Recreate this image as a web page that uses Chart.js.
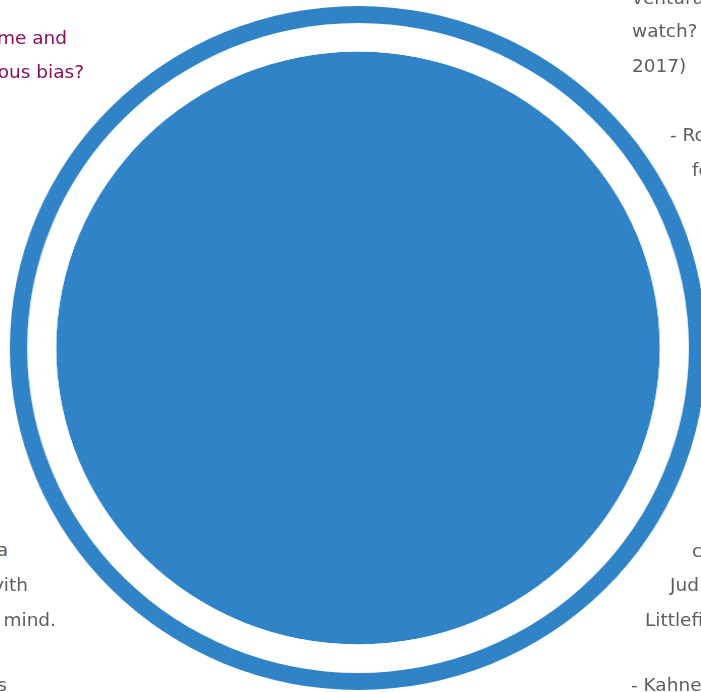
<!DOCTYPE html>
<html>
<head>
<meta charset="utf-8">
<script src="https://cdn.jsdelivr.net/npm/chart.js@4"></script>
<style>
  html, body { margin: 0; padding: 0; background: #fff; }
  body { width: 701px; height: 692px; overflow: hidden; position: relative; font-family: 'DejaVu Sans', sans-serif; }
  #wrap { position: absolute; left: 16px; top: 6px; width: 684px; height: 684px; transform: scaleX(1.018); transform-origin: 50% 50%; }
  .t { position: absolute; font-size: 18.5px; line-height: 20px; white-space: nowrap; color: #5e5e5e; }
  .r { text-align: right; }
  .m { color: #8c0f5a; }
</style>
</head>
<body>
<div id="wrap"><canvas id="circleChart"></canvas></div>

<div class="t r m" style="right:634px; top:28px;">me and</div>
<div class="t r m" style="right:617px; top:62px;">ous bias?</div>

<div class="t" style="left:632px; top:-12px;">ventura</div>
<div class="t" style="left:632px; top:21px;">watch?</div>
<div class="t" style="left:632px; top:56px;">2017)</div>
<div class="t" style="left:670px; top:125px;">- Ro</div>
<div class="t" style="left:692px; top:160px;">fo</div>
<div class="t" style="left:692px; top:541px;">c</div>
<div class="t" style="left:670px; top:575px;">Jud</div>
<div class="t" style="left:645px; top:610px;">Littlefie</div>
<div class="t" style="left:631px; top:675px;">- Kahne</div>

<div class="t r" style="right:693px; top:540px;">a</div>
<div class="t r" style="right:673px; top:575px;">vith</div>
<div class="t r" style="right:645px; top:610px;">mind.</div>
<div class="t r" style="right:694px; top:675px;">s</div>

<script>
const labels = ['Total'];
const ringValues = [100];
const gapValues = [100];
const discValues = [100];

const blue = '#2f83c6';

new Chart(document.getElementById('circleChart'), {
  type: 'pie',
  data: {
    labels: labels,
    datasets: [
      { data: ringValues, backgroundColor: [blue], weight: 17, borderWidth: 0 },
      { data: gapValues, backgroundColor: ['#ffffff'], weight: 28.5, borderWidth: 0 },
      { data: discValues, backgroundColor: [blue], weight: 296.5, borderWidth: 0 }
    ]
  },
  options: {
    responsive: true,
    maintainAspectRatio: false,
    animation: false,
    layout: { padding: 0 },
    hoverOffset: 0,
    offset: 0,
    plugins: {
      legend: { display: false },
      tooltip: { enabled: false }
    }
  }
});
</script>
</body>
</html>
